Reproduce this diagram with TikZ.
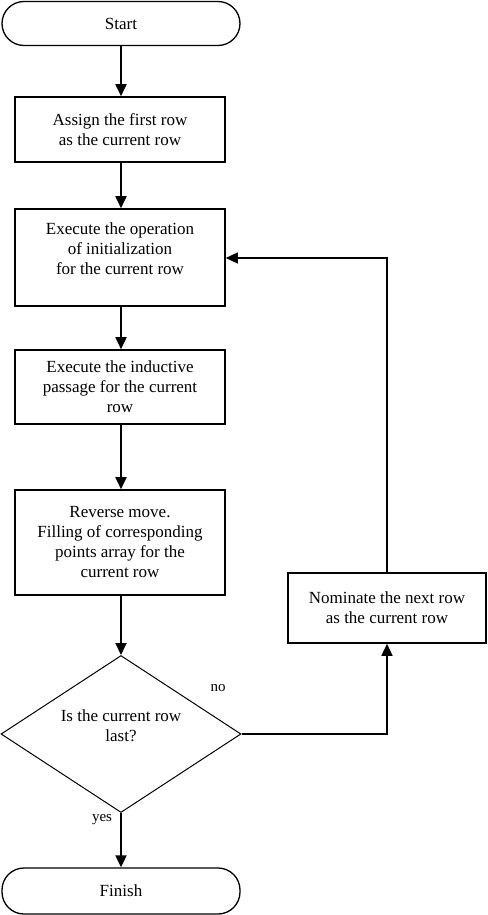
\documentclass[tikz,border=0pt]{standalone}
\usepackage{fontspec}
\setmainfont{Liberation Serif}
\usetikzlibrary{shapes.geometric,arrows.meta}
\begin{document}
\begin{tikzpicture}[x=1pt,y=-1pt,
  font=\fontsize{17}{20}\selectfont,
  term/.style={draw,line width=1.3pt,rounded corners=22pt,inner sep=0pt,minimum width=238pt},
  proc/.style={draw,line width=1.6pt,inner sep=0pt,align=center},
  dec/.style={draw,diamond,line width=1pt,inner sep=0pt,minimum width=240pt,minimum height=157pt},
  txt/.style={align=center,inner sep=0pt},
  flow/.style={line width=1.8pt,-{Triangle[length=12pt,width=11pt]}},
  loopline/.style={line width=1.4pt,-{Triangle[length=12pt,width=11pt]}},
  lbl/.style={font=\fontsize{15}{17}\selectfont,inner sep=0pt}]
\useasboundingbox (0,0) rectangle (487,915);
\node[term,minimum height=44pt] (start) at (121,23.5) {Start};
\node[proc,minimum width=210pt,minimum height=65pt] (b1) at (120,129.5) {Assign the first row\\as the current row};
\node[proc,minimum width=210pt,minimum height=97pt] (b2) at (120,257.5) {};
\node[txt] (b2t) at (120,249) {Execute the operation\\of initialization\\for the current row};
\node[proc,minimum width=210pt,minimum height=74pt] (b3) at (120,387) {Execute the inductive\\passage for the current\\row};
\node[proc,minimum width=210pt,minimum height=105pt] (b4) at (120,542.5) {Reverse move.\\Filling of corresponding\\points array for the\\current row};
\node[dec] (d) at (121,734) {};
\node[txt] (dt) at (121,726) {Is the current row\\last?};
\node[term,minimum height=46pt] (fin) at (121,891) {Finish};
\node[proc,minimum width=198pt,minimum height=70pt] (nx) at (387,608) {Nominate the next row\\as the current row};
\coordinate (corner) at (387,258);
\draw[flow] (start.south -| 121,0) -- (b1.north -| 121,0);
\draw[flow] (b1.south -| 121,0) -- (b2.north -| 121,0);
\draw[flow] (b2.south -| 121,0) -- (b3.north -| 121,0);
\draw[flow] (b3.south -| 121,0) -- (b4.north -| 121,0);
\draw[flow] (b4.south -| 121,0) -- (d.north);
\draw[flow] (d.south) -- (fin.north);
\draw[loopline] (d.east) -| (nx.south);
\draw[loopline] (nx.north) -- (corner) -- (corner -| b2.east);
\node[lbl] (yes) at (102,820) {yes};
\node[lbl] (no) at (218,688) {no};
\end{tikzpicture}
\end{document}
